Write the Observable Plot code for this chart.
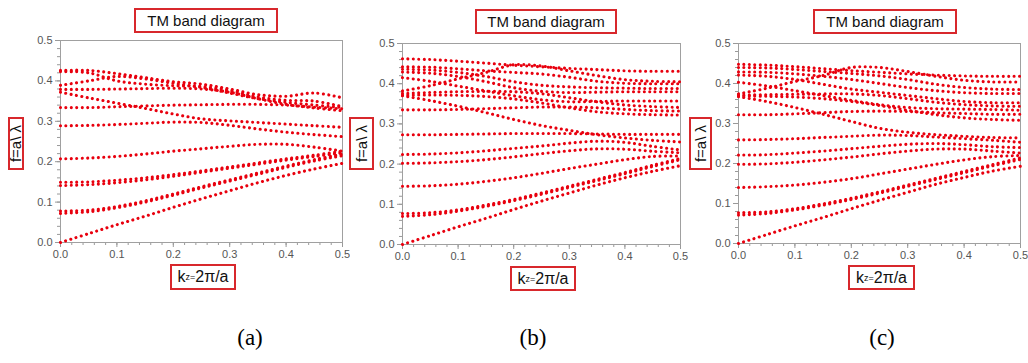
<!DOCTYPE html>
<html><head><meta charset="utf-8">
<script src="https://cdn.jsdelivr.net/npm/d3@7"></script>
<script src="https://cdn.jsdelivr.net/npm/@observablehq/plot@0.6"></script>
<style>
body{margin:0;background:#fff;}
#root{position:relative;width:1028px;height:363px;overflow:hidden;font-family:"Liberation Sans",Arial,sans-serif;}
.panel{position:absolute;top:0;overflow:hidden;}
.box{position:absolute;border:2px solid #d8282c;background:#fff;box-sizing:border-box;display:flex;align-items:center;justify-content:center;color:#111;white-space:nowrap;}
.title{font-size:15px;}
.ylab{font-size:15px;}
.ylab span{transform:rotate(-90deg);display:inline-block;}
.xlab{font-size:16px;}
.xlab sub{font-size:9px;vertical-align:-3px;}
.cap{position:absolute;font-family:"Liberation Serif","Times New Roman",serif;font-size:23px;transform:translateX(-50%);}
</style></head>
<body><div id="root"></div>
<script>
// ---- data ----
const kValues = [0, 0.05, 0.1, 0.15, 0.2, 0.25, 0.3, 0.35, 0.4, 0.45, 0.5];
const titleText = "TM band diagram";
const yLabelText = "f=a\\ λ";
const captions = ["(a)", "(b)", "(c)"];
const xTicks = [0, 0.1, 0.2, 0.3, 0.4, 0.5];
const yTicks = [0, 0.1, 0.2, 0.3, 0.4, 0.5];

const bandsA = [
  [0, 0.022, 0.044, 0.065, 0.087, 0.108, 0.128, 0.148, 0.166, 0.182, 0.196],
  [0.072, 0.076, 0.086, 0.100, 0.117, 0.135, 0.152, 0.169, 0.186, 0.202, 0.215],
  [0.078, 0.080, 0.089, 0.103, 0.120, 0.138, 0.155, 0.172, 0.189, 0.205, 0.219],
  [0.141, 0.143, 0.148, 0.155, 0.164, 0.174, 0.184, 0.194, 0.204, 0.213, 0.222],
  [0.149, 0.150, 0.154, 0.160, 0.168, 0.177, 0.187, 0.197, 0.207, 0.216, 0.226],
  [0.207, 0.209, 0.213, 0.219, 0.226, 0.232, 0.238, 0.243, 0.243, 0.236, 0.226],
  [0.289, 0.290, 0.292, 0.295, 0.298, 0.297, 0.290, 0.281, 0.273, 0.267, 0.262],
  [0.372, 0.358, 0.345, 0.332, 0.318, 0.306, 0.301, 0.297, 0.293, 0.289, 0.285],
  [0.334, 0.334, 0.336, 0.338, 0.340, 0.341, 0.342, 0.342, 0.340, 0.335, 0.331],
  [0.426, 0.426, 0.418, 0.408, 0.398, 0.392, 0.380, 0.366, 0.362, 0.370, 0.358],
  [0.423, 0.420, 0.400, 0.392, 0.388, 0.386, 0.376, 0.360, 0.352, 0.350, 0.336],
  [0.389, 0.400, 0.411, 0.405, 0.394, 0.384, 0.370, 0.356, 0.347, 0.340, 0.334],
  [0.379, 0.379, 0.380, 0.381, 0.382, 0.380, 0.372, 0.356, 0.342, 0.333, 0.326]
];
const bandsB = [
  [0, 0.022, 0.044, 0.065, 0.087, 0.108, 0.128, 0.148, 0.166, 0.182, 0.196],
  [0.070, 0.074, 0.083, 0.095, 0.109, 0.125, 0.142, 0.159, 0.176, 0.194, 0.211],
  [0.077, 0.079, 0.086, 0.098, 0.112, 0.128, 0.145, 0.162, 0.179, 0.197, 0.214],
  [0.145, 0.146, 0.150, 0.157, 0.166, 0.177, 0.189, 0.200, 0.211, 0.219, 0.220],
  [0.202, 0.203, 0.206, 0.211, 0.218, 0.226, 0.233, 0.238, 0.237, 0.232, 0.228],
  [0.224, 0.225, 0.228, 0.233, 0.239, 0.245, 0.252, 0.257, 0.254, 0.244, 0.235],
  [0.273, 0.273, 0.274, 0.275, 0.276, 0.276, 0.276, 0.275, 0.274, 0.274, 0.274],
  [0.370, 0.358, 0.344, 0.328, 0.311, 0.296, 0.284, 0.273, 0.265, 0.259, 0.255],
  [0.335, 0.335, 0.336, 0.338, 0.340, 0.342, 0.342, 0.340, 0.336, 0.333, 0.332],
  [0.462, 0.460, 0.456, 0.451, 0.446, 0.442, 0.438, 0.435, 0.432, 0.431, 0.431],
  [0.382, 0.395, 0.412, 0.428, 0.447, 0.444, 0.432, 0.420, 0.410, 0.406, 0.405],
  [0.442, 0.441, 0.437, 0.432, 0.428, 0.424, 0.416, 0.406, 0.401, 0.400, 0.400],
  [0.436, 0.434, 0.428, 0.418, 0.405, 0.396, 0.392, 0.390, 0.389, 0.388, 0.388],
  [0.429, 0.426, 0.418, 0.405, 0.390, 0.381, 0.378, 0.379, 0.380, 0.380, 0.380],
  [0.415, 0.406, 0.394, 0.382, 0.370, 0.360, 0.355, 0.356, 0.357, 0.357, 0.357],
  [0.376, 0.378, 0.380, 0.381, 0.380, 0.375, 0.365, 0.355, 0.347, 0.343, 0.341],
  [0.372, 0.372, 0.371, 0.368, 0.362, 0.352, 0.340, 0.330, 0.325, 0.323, 0.322]
];
const bandsC = [
  [0, 0.022, 0.044, 0.065, 0.087, 0.108, 0.128, 0.148, 0.165, 0.181, 0.193],
  [0.071, 0.075, 0.084, 0.096, 0.110, 0.126, 0.143, 0.160, 0.177, 0.194, 0.210],
  [0.077, 0.079, 0.087, 0.099, 0.113, 0.129, 0.146, 0.163, 0.180, 0.197, 0.214],
  [0.140, 0.142, 0.146, 0.153, 0.162, 0.174, 0.186, 0.198, 0.209, 0.217, 0.220],
  [0.198, 0.199, 0.203, 0.209, 0.216, 0.224, 0.231, 0.236, 0.236, 0.231, 0.226],
  [0.221, 0.222, 0.226, 0.231, 0.237, 0.243, 0.248, 0.250, 0.247, 0.242, 0.240],
  [0.259, 0.260, 0.262, 0.265, 0.268, 0.271, 0.270, 0.266, 0.262, 0.258, 0.253],
  [0.367, 0.355, 0.340, 0.323, 0.305, 0.288, 0.278, 0.272, 0.268, 0.265, 0.264],
  [0.322, 0.322, 0.324, 0.327, 0.330, 0.331, 0.330, 0.327, 0.325, 0.323, 0.323],
  [0.448, 0.446, 0.442, 0.437, 0.432, 0.428, 0.424, 0.421, 0.419, 0.418, 0.418],
  [0.374, 0.388, 0.405, 0.420, 0.440, 0.440, 0.430, 0.418, 0.408, 0.404, 0.404],
  [0.440, 0.439, 0.435, 0.430, 0.425, 0.419, 0.410, 0.398, 0.390, 0.386, 0.385],
  [0.429, 0.428, 0.424, 0.418, 0.410, 0.400, 0.390, 0.382, 0.377, 0.375, 0.375],
  [0.421, 0.418, 0.410, 0.398, 0.386, 0.378, 0.370, 0.362, 0.355, 0.352, 0.352],
  [0.403, 0.394, 0.382, 0.370, 0.358, 0.347, 0.340, 0.337, 0.336, 0.335, 0.333],
  [0.371, 0.372, 0.373, 0.374, 0.374, 0.370, 0.362, 0.353, 0.347, 0.344, 0.343],
  [0.369, 0.368, 0.366, 0.362, 0.355, 0.345, 0.333, 0.322, 0.314, 0.310, 0.308]
];

// ---- layout ----
const layouts = [
  {bands: bandsA, left: 0, width: 350, height: 263, mL: 60, mR: 8, mT: 40, mB: 21,
   title: [134, 8, 144, 25], ylab: [8, 117, 16, 53], xlab: [170, 264, 66, 26], cap: [250, 325]},
  {bands: bandsB, left: 350, width: 340, height: 264, mL: 52, mR: 10, mT: 43, mB: 20,
   title: [475, 9, 142, 25], ylab: [349, 117, 25, 53], xlab: [510, 266, 66, 25], cap: [533, 325]},
  {bands: bandsC, left: 690, width: 338, height: 263, mL: 48, mR: 8, mT: 43, mB: 20,
   title: [813, 9, 144, 25], ylab: [689, 117, 23, 53], xlab: [848, 265, 67, 25], cap: [882, 325]}
];

const root = document.getElementById("root");
const minorTicks = d3.range(0, 25.5).map(i => i * 0.02);

layouts.forEach((L, pi) => {
  const rows = [];
  L.bands.forEach((vals, b) => vals.forEach((f, i) => rows.push({band: b, k: kValues[i], f})));
  const plot = Plot.plot({
    width: L.width, height: L.height,
    marginLeft: L.mL, marginRight: L.mR, marginTop: L.mT, marginBottom: L.mB,
    style: {background: "transparent", fontFamily: "'Liberation Sans', Arial, sans-serif", fontSize: "11px", overflow: "visible"},
    x: {domain: [0, 0.5], label: null},
    y: {domain: [0, 0.5], label: null},
    marks: [
      Plot.axisX({ticks: minorTicks, tickSize: 3, tickFormat: () => "", stroke: "#999", label: null}),
      Plot.axisY({ticks: minorTicks, tickSize: 3, tickFormat: () => "", stroke: "#999", label: null}),
      Plot.axisX({ticks: xTicks, tickSize: 5, tickPadding: 3, tickFormat: d3.format(".1f"), stroke: "#999", fill: "#555", label: null}),
      Plot.axisY({ticks: yTicks, tickSize: 5, tickPadding: 3, tickFormat: d3.format(".1f"), stroke: "#999", fill: "#555", label: null}),
      Plot.frame({stroke: "#a0a0a0"}),
      Plot.line(rows, {x: "k", y: "f", z: "band", stroke: "#e8000e", strokeWidth: 3.1,
        strokeDasharray: "0.01 5.4", strokeLinecap: "round", curve: "catmull-rom"})
    ]
  });
  const div = document.createElement("div");
  div.className = "panel";
  div.style.left = L.left + "px";
  div.style.width = L.width + "px";
  div.style.height = L.height + 8 + "px";
  div.appendChild(plot);
  root.appendChild(div);

  const mk = (cls, r, html) => {
    const e = document.createElement("div");
    e.className = "box " + cls;
    e.style.left = r[0] + "px"; e.style.top = r[1] + "px";
    e.style.width = r[2] + "px"; e.style.height = r[3] + "px";
    e.innerHTML = html;
    root.appendChild(e);
  };
  mk("title", L.title, titleText);
  mk("ylab", L.ylab, "<span>" + yLabelText.replace("\\", "&#92;") + "</span>");
  mk("xlab", L.xlab, "k<sub>z=</sub>2π/a");
  const c = document.createElement("div");
  c.className = "cap";
  c.style.left = L.cap[0] + "px"; c.style.top = L.cap[1] + "px";
  c.textContent = captions[pi];
  root.appendChild(c);
});
</script>
</body></html>
